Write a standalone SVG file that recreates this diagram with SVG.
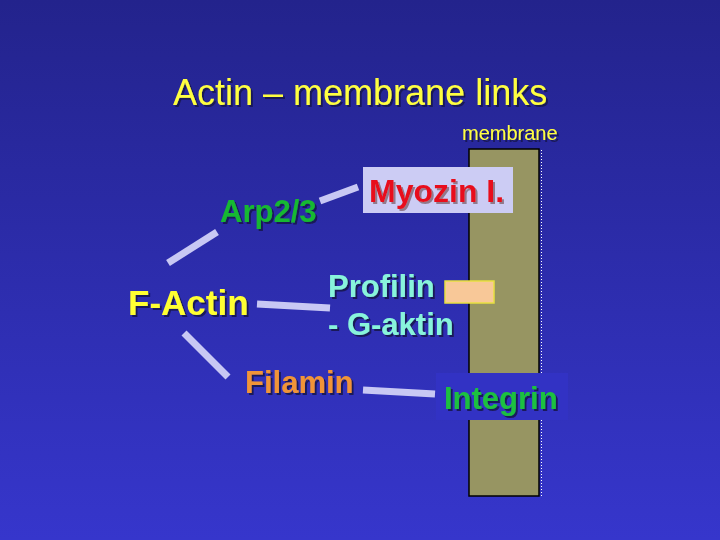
<svg xmlns="http://www.w3.org/2000/svg" width="720" height="540" viewBox="0 0 720 540">
<defs>
<linearGradient id="bg" x1="0" y1="0" x2="0" y2="1">
<stop offset="0" stop-color="#23238c"/>
<stop offset="1" stop-color="#3636cc"/>
</linearGradient>
<filter id="shadow" x="-10%" y="-20%" width="120%" height="150%">
<feDropShadow dx="2" dy="2" stdDeviation="0.4" flood-color="#141450" flood-opacity="0.9"/>
</filter>
<filter id="shadowlight" x="-10%" y="-20%" width="120%" height="150%">
<feDropShadow dx="2" dy="2" stdDeviation="0.4" flood-color="#8a7080" flood-opacity="0.9"/>
</filter>
<style>
text{font-family:"Liberation Sans",Arial,sans-serif;filter:url(#shadow)}
.b{font-weight:bold}
.con{stroke:#c8c8f4;stroke-width:7;fill:none}
</style>
</defs>
<rect width="720" height="540" fill="url(#bg)"/>
<g id="title">
<text x="173" y="105" font-size="36" fill="#ffff40">Actin – membrane links</text>
</g>
<g id="membrane">
<text x="462" y="140" font-size="20" fill="#ffff40">membrane</text>
<rect x="469" y="149" width="70" height="347" fill="#979562" stroke="#000" stroke-width="1.5"/>
<line x1="541.5" y1="150" x2="541.5" y2="496" stroke="#ffffff" stroke-width="1" stroke-dasharray="1,2"/>
</g>
<g id="connectors">
<line class="con" x1="320" y1="201" x2="358" y2="187"/>
<line class="con" x1="168" y1="263" x2="217" y2="232"/>
<line class="con" x1="257" y1="304" x2="330" y2="308"/>
<line class="con" x1="184" y1="333" x2="228" y2="377"/>
<line class="con" x1="363" y1="390" x2="435" y2="394"/>
</g>
<g id="myozin">
<rect x="363" y="167" width="150" height="46" fill="#ccccf4"/>
<text x="369" y="202" font-size="32" class="b" fill="#e8101c" style="filter:url(#shadowlight)">Myozin I.</text>
</g>
<g id="arp">
<text x="220" y="222" font-size="31" class="b" fill="#18b830">Arp2/3</text>
</g>
<g id="factin">
<text x="128" y="315" font-size="35" class="b" fill="#ffff30">F-Actin</text>
</g>
<g id="profilin">
<text x="328" y="297" font-size="31" class="b" fill="#88f4dc">Profilin</text>
<text x="328" y="335" font-size="31" class="b" fill="#88f4dc">- G-aktin</text>
<rect x="445" y="281" width="49" height="22" fill="#f8c898" stroke="#e8e040" stroke-width="1.5"/>
</g>
<g id="filamin">
<text x="245" y="393" font-size="31" class="b" fill="#f09438">Filamin</text>
</g>
<g id="integrin">
<rect x="436" y="373" width="132" height="47" fill="#3232c4"/>
<text x="444" y="409" font-size="31" class="b" fill="#1cc040">Integrin</text>
</g>
</svg>
